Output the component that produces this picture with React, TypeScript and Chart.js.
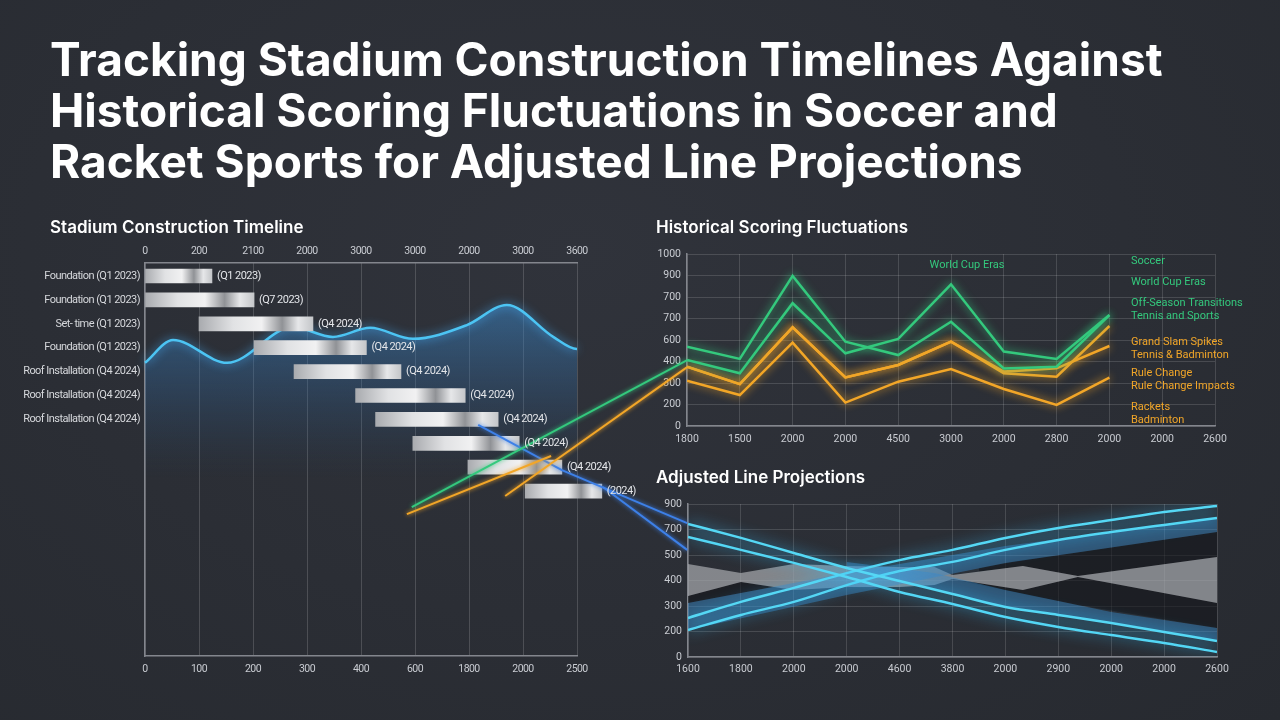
import React, { useEffect, useRef } from 'react';
import { Chart, registerables } from 'chart.js';

Chart.register(...registerables);

// ---------- Stadium Construction Timeline ----------
const timelineRows = [
  'Foundation (Q1 2023)',
  'Foundation (Q1 2023)',
  'Set- time (Q1 2023)',
  'Foundation (Q1 2023)',
  'Roof Installation (Q4 2024)',
  'Roof Installation (Q4 2024)',
  'Roof Installation (Q4 2024)',
];
const timelineStart = [0, 0, 1.0, 2.02, 2.76, 3.9, 4.27, 4.96, 5.98, 7.04];
const timelineEnd = [1.24, 2.02, 3.11, 4.1, 4.74, 5.93, 6.54, 6.93, 7.72, 8.46];
const timelineTags = ['(Q1 2023)', '(Q7 2023)', '(Q4 2024)', '(Q4 2024)', '(Q4 2024)', '(Q4 2024)', '(Q4 2024)', '(Q4 2024)', '(Q4 2024)', '(2024)'];
const timelineTopTicks = ['0', '200', '2100', '2000', '3000', '3000', '2000', '3000', '3600'];
const timelineBottomTicks = ['0', '100', '200', '300', '400', '600', '1800', '2000', '2500'];
const waveX = [0, 0.52, 1.52, 2.74, 3.48, 4.17, 4.96, 5.96, 6.7, 7.56, 8.0, 8.43];
const waveY = [74.6, 80.4, 74.6, 83.7, 81.2, 83.5, 80.7, 84.2, 89.3, 81.2, 78.1, 78.1];
const linkGreenX = [4.94, 10.04];
const linkGreenY = [37.9, 75.3];
const linkOrangeAX = [4.85, 7.52];
const linkOrangeAY = [36.1, 50.9];
const linkOrangeBX = [6.67, 10.04];
const linkOrangeBY = [40.7, 73.5];
const linkBlueAX = [6.17, 7.72, 10.04];
const linkBlueAY = [58.8, 47.3, 33.8];
const linkBlueBX = [8.48, 10.04];
const linkBlueBY = [43.0, 27.0];

// ---------- Historical Scoring Fluctuations ----------
const scoringXTicks = ['1800', '1500', '2000', '2000', '4500', '3000', '2000', '2800', '2000', '2000', '2600'];
const scoringYTicks = ['0', '200', '300', '400', '600', '700', '700', '900', '1000'];
const soccerPeaks = [3.69, 3.12, 6.98, 3.92, 3.3, 4.85, 2.68, 2.76, 5.16];
const soccerTrend = [3.07, 2.45, 5.71, 3.38, 4.05, 6.59, 3.46, 3.12, 5.16];
const racketGrandSlam = [2.76, 1.95, 4.59, 2.26, 2.84, 3.92, 2.45, 2.29, 4.65];
const racketRuleChange = [2.76, 1.95, 4.59, 2.26, 2.84, 3.92, 2.53, 2.68, 3.72];
const racketBadminton = [2.11, 1.44, 3.88, 1.09, 2.06, 2.65, 1.72, 0.98, 2.25];
const scoringLegendGroups = [
  ['Soccer'],
  ['World Cup Eras'],
  ['Off-Season Transitions', 'Tennis and Sports'],
  ['Grand Slam Spikes', 'Tennis & Badminton'],
  ['Rule Change', 'Rule Change Impacts'],
  ['Rackets', 'Badminton'],
];
const scoringLegendKinds = ['soccer', 'soccer', 'soccer', 'racket', 'racket', 'racket'];
const scoringNote = 'World Cup Eras';

// ---------- Adjusted Line Projections ----------
const projXTicks = ['1600', '1800', '2000', '2000', '4600', '3800', '2000', '2900', '2000', '2000', '2600'];
const projYTicks = ['0', '200', '300', '400', '500', '700', '900'];
const projDescA = [5.22, 4.67, 4.08, 3.49, 2.98, 2.47, 1.96, 1.65, 1.33, 0.98, 0.63];
const projDescB = [4.71, 4.2, 3.69, 3.14, 2.55, 2.08, 1.57, 1.18, 0.86, 0.55, 0.2];
const projAscA = [1.53, 2.16, 2.71, 3.29, 3.8, 4.2, 4.67, 5.06, 5.37, 5.69, 5.92];
const projAscB = [1.06, 1.65, 2.16, 2.82, 3.37, 3.73, 4.2, 4.59, 4.9, 5.18, 5.45];
const grayX = [0, 1, 2, 3, 4, 4.66, 5, 6.33, 7.37, 10];
const grayTop = [3.65, 3.29, 3.65, 3.57, 3.53, 3.53, 3.22, 3.57, 3.18, 3.92];
const grayBottom = [2.39, 2.94, 2.63, 2.75, 2.75, 2.82, 3.06, 2.63, 3.14, 2.12];
const ascBandX = [0, 3, 6, 10];
const ascBandTop = [2.12, 3.29, 4.35, 5.45];
const ascBandBottom = [1.06, 2.43, 3.69, 4.9];
const descBandX = [3, 4.66, 6, 8, 10];
const descBandTop = [3.73, 3.29, 2.63, 1.76, 1.14];
const descBandBottom = [3.41, 2.63, 1.96, 1.33, 0.63];
const darkAX = [5.5, 6.33, 7.37, 10];
const darkATop = [3.49, 3.8, 4.1, 4.9];
const darkABottom = [3.35, 3.57, 3.18, 3.92];
const darkBX = [5.0, 6.33, 7.37, 10];
const darkBTop = [3.06, 2.63, 3.14, 2.12];
const darkBBottom = [3.06, 2.47, 2.04, 1.14];
const darkCX = [0, 1, 1.6];
const darkCTop = [2.39, 2.94, 2.75];
const darkCBottom = [2.12, 2.51, 2.75];

// ---------- styles ----------
const BG = '#2b2e35';
const TICK = '#c9ccd2';
const GREEN = '#34c97d';
const ORANGE = '#f2a628';
const CYAN = '#55d8f5';
const LINK_BLUE = '#3d80e8';
const AXIS = '#83868d';
const GRID = 'rgba(255,255,255,0.14)';
const LABEL_FAMILY = 'Roboto, sans-serif';
const TICK_FONT = { family: 'Roboto, sans-serif', size: 10.5 };

const pts = (xs: number[], ys: number[]) => xs.map((x, i) => ({ x, y: ys[i] }));
const idx = (ys: number[]) => ys.map((y, i) => ({ x: i, y }));

const glowPlugin = {
  id: 'glow',
  beforeDatasetDraw(chart: any, args: any) {
    const ds: any = chart.data.datasets[args.index];
    if (ds.glowColor) {
      const c = chart.ctx;
      c.save();
      c.shadowColor = ds.glowColor;
      c.shadowBlur = ds.glowBlur || 10;
    }
  },
  afterDatasetDraw(chart: any, args: any) {
    const ds: any = chart.data.datasets[args.index];
    if (ds.glowColor) chart.ctx.restore();
  },
};

// tightens the narrow label text of the timeline chart
const tightTextPlugin = {
  id: 'tightText',
  beforeDraw(chart: any) {
    (chart.ctx as any).letterSpacing = '-0.55px';
  },
  afterDraw(chart: any) {
    (chart.ctx as any).letterSpacing = '0px';
  },
};

const tickAxis = (labels: string[], extra: any) => ({
  type: 'linear',
  min: 0,
  max: labels.length - 1,
  offset: false,
  afterBuildTicks: (s: any) => {
    s.ticks = labels.map((_, i) => ({ value: i }));
  },
  ...extra,
});

function makeTimeline(canvas: HTMLCanvasElement) {
  const bars = timelineStart.map((s, i) => ({ x: [s, timelineEnd[i]], y: i }));
  const metal = (c: any) => {
    const chart = c.chart;
    if (!chart.chartArea || !c.raw || !chart.scales.x) return '#cfd0d3';
    const xs = chart.scales.x;
    const x0 = xs.getPixelForValue(c.raw.x[0]);
    const x1 = xs.getPixelForValue(c.raw.x[1]);
    const g = chart.ctx.createLinearGradient(x0, 0, x1, 0);
    g.addColorStop(0, '#a9abaf');
    g.addColorStop(0.3, '#e1e2e4');
    g.addColorStop(0.55, '#f1f1f2');
    g.addColorStop(0.73, '#909296');
    g.addColorStop(0.87, '#e6e7e9');
    g.addColorStop(1, '#c4c6c9');
    return g;
  };
  const waveFill = (c: any) => {
    const chart = c.chart;
    const a = chart.chartArea;
    if (!a) return 'rgba(0,0,0,0)';
    const g = chart.ctx.createLinearGradient(0, a.top + 40, 0, a.top + 215);
    g.addColorStop(0, 'rgba(60,135,200,0.55)');
    g.addColorStop(0.5, 'rgba(50,105,160,0.3)');
    g.addColorStop(1, 'rgba(40,80,120,0)');
    return g;
  };
  const link = (label: string, xs: number[], ys: number[], color: string) => ({
    type: 'line',
    label,
    data: pts(xs, ys),
    xAxisID: 'x',
    yAxisID: 'y2',
    borderColor: color,
    borderWidth: 2,
    pointRadius: 0,
    fill: false,
    tension: 0,
    clip: false,
    order: 0,
    glowColor: color,
    glowBlur: 4,
  });
  const tagPlugin = {
    id: 'timelineTags',
    afterDatasetsDraw(chart: any) {
      const meta = chart.getDatasetMeta(0);
      const ctx = chart.ctx;
      ctx.save();
      ctx.font = `11px ${LABEL_FAMILY}`;
      ctx.fillStyle = '#e3e5e9';
      ctx.textBaseline = 'middle';
      ctx.textAlign = 'left';
      meta.data.forEach((el: any, i: number) => ctx.fillText(timelineTags[i], el.x + 5, el.y));
      ctx.restore();
    },
  };
  return new Chart(canvas, {
    type: 'bar',
    data: {
      datasets: [
        {
          type: 'bar',
          label: 'Phases',
          data: bars as any,
          indexAxis: 'y',
          xAxisID: 'x',
          yAxisID: 'y',
          barThickness: 14,
          backgroundColor: metal,
          borderWidth: 0,
          clip: false,
          order: 1,
        } as any,
        {
          type: 'line',
          label: 'Progress',
          data: pts(waveX, waveY),
          xAxisID: 'x',
          yAxisID: 'y2',
          borderColor: '#4cc4f3',
          borderWidth: 2.5,
          pointRadius: 0,
          cubicInterpolationMode: 'monotone',
          fill: 'origin',
          backgroundColor: waveFill,
          clip: false,
          order: 2,
          glowColor: 'rgba(70,180,255,0.9)',
          glowBlur: 10,
        } as any,
        link('Soccer link', linkGreenX, linkGreenY, GREEN),
        link('Racket link A', linkOrangeAX, linkOrangeAY, ORANGE),
        link('Racket link B', linkOrangeBX, linkOrangeBY, ORANGE),
        link('Projection link A', linkBlueAX, linkBlueAY, LINK_BLUE),
        link('Projection link B', linkBlueBX, linkBlueBY, LINK_BLUE),
      ],
    },
    options: {
      animation: false,
      responsive: false,
      layout: { padding: { left: 0, top: 0, right: 123, bottom: 0 } },
      plugins: { legend: { display: false }, tooltip: { enabled: false } },
      scales: {
        x: tickAxis(timelineBottomTicks, {
          position: 'bottom',
          afterFit: (s: any) => {
            s.height = 44;
          },
          grid: { color: 'rgba(255,255,255,0.16)', drawTicks: false, offset: false },
          border: { color: AXIS, width: 1.5 },
          ticks: {
            autoSkip: false,
            maxRotation: 0,
            color: TICK,
            font: TICK_FONT,
            padding: 7,
            callback: (v: number) => timelineBottomTicks[Math.round(v)] ?? '',
          },
        }),
        xTop: tickAxis(timelineTopTicks, {
          position: 'top',
          afterFit: (s: any) => {
            s.height = 63;
          },
          grid: { display: false, drawTicks: false, offset: false },
          border: { color: AXIS, width: 1.5 },
          ticks: {
            autoSkip: false,
            maxRotation: 0,
            color: TICK,
            font: TICK_FONT,
            padding: 5,
            callback: (v: number) => timelineTopTicks[Math.round(v)] ?? '',
          },
        }),
        y: {
          type: 'linear',
          reverse: true,
          offset: false,
          min: -0.544,
          max: 15.9,
          afterBuildTicks: (s: any) => {
            s.ticks = timelineRows.map((_, i) => ({ value: i }));
          },
          afterFit: (s: any) => {
            s.width = 145;
          },
          ticks: {
            autoSkip: false,
            color: '#d6d8dc',
            font: { family: LABEL_FAMILY, size: 11 },
            padding: 5,
            callback: (v: number) => timelineRows[Math.round(v)] ?? '',
          },
          grid: { display: false, drawTicks: false, offset: false },
          border: { color: AXIS, width: 1.5 },
        },
        y2: { type: 'linear', display: false, min: 0, max: 100 },
      } as any,
    },
    plugins: [tightTextPlugin, glowPlugin, tagPlugin],
  } as any);
}

function makeScoring(canvas: HTMLCanvasElement) {
  const line = (label: string, ys: number[], color: string) => ({
    label,
    data: idx(ys),
    borderColor: color,
    borderWidth: 2.5,
    pointRadius: 0,
    tension: 0,
    fill: false,
    glowColor: color,
    glowBlur: 8,
  });
  const textPlugin = {
    id: 'scoringText',
    afterDraw(chart: any) {
      const { ctx, chartArea } = chart;
      ctx.save();
      ctx.font = `11px ${LABEL_FAMILY}`;
      ctx.textBaseline = 'middle';
      ctx.textAlign = 'center';
      ctx.fillStyle = GREEN;
      ctx.fillText(scoringNote, chartArea.left + 280, chartArea.top + 11);
      ctx.textAlign = 'left';
      const groupTops = [7, 28, 49, 88, 119, 153];
      scoringLegendGroups.forEach((g, gi) => {
        ctx.fillStyle = scoringLegendKinds[gi] === 'soccer' ? GREEN : ORANGE;
        g.forEach((t, ti) => ctx.fillText(t, chartArea.left + 444, chartArea.top + groupTops[gi] + ti * 13));
      });
      ctx.restore();
    },
  };
  return new Chart(canvas, {
    type: 'line',
    data: {
      datasets: [
        line('Soccer peaks', soccerPeaks, GREEN),
        line('Soccer trend', soccerTrend, GREEN),
        line('Grand Slam', racketGrandSlam, ORANGE),
        line('Rule Change', racketRuleChange, ORANGE),
        line('Badminton', racketBadminton, ORANGE),
      ] as any,
    },
    options: {
      animation: false,
      responsive: false,
      layout: { padding: { left: 0, top: 14, right: 65, bottom: 0 } },
      plugins: { legend: { display: false }, tooltip: { enabled: false } },
      scales: {
        x: tickAxis(scoringXTicks, {
          afterFit: (s: any) => {
            s.height = 24;
          },
          grid: { color: GRID, drawTicks: false },
          border: { color: AXIS, width: 1.5 },
          ticks: {
            autoSkip: false,
            maxRotation: 0,
            color: TICK,
            font: TICK_FONT,
            padding: 7,
            callback: (v: number) => scoringXTicks[Math.round(v)] ?? '',
          },
        }),
        y: tickAxis(scoringYTicks, {
          afterFit: (s: any) => {
            s.width = 47;
          },
          grid: { color: GRID, drawTicks: false },
          border: { color: AXIS, width: 1.5 },
          ticks: {
            autoSkip: false,
            color: TICK,
            font: TICK_FONT,
            padding: 6,
            callback: (v: number) => scoringYTicks[Math.round(v)] ?? '',
          },
        }),
      } as any,
    },
    plugins: [glowPlugin, textPlugin],
  } as any);
}

function makeProjection(canvas: HTMLCanvasElement) {
  const edge = (label: string, xs: number[], ys: number[], order: number, fill: any, color: string) => ({
    label,
    data: pts(xs, ys),
    borderWidth: 0,
    borderColor: 'rgba(0,0,0,0)',
    pointRadius: 0,
    tension: 0,
    fill,
    backgroundColor: color,
    order,
  });
  const cyan = (label: string, ys: number[]) => ({
    label,
    data: idx(ys),
    borderColor: CYAN,
    borderWidth: 2.5,
    pointRadius: 0,
    cubicInterpolationMode: 'monotone',
    fill: false,
    order: 0,
    glowColor: 'rgba(60,195,255,0.95)',
    glowBlur: 14,
  });
  const BAND = 'rgba(55,135,200,0.45)';
  const GRAY = 'rgba(165,167,172,0.72)';
  const DARK = 'rgba(20,22,27,0.6)';
  return new Chart(canvas, {
    type: 'line',
    data: {
      datasets: [
        cyan('Desc A', projDescA),
        cyan('Desc B', projDescB),
        cyan('Asc A', projAscA),
        cyan('Asc B', projAscB),
        edge('Asc band top', ascBandX, ascBandTop, 3, false, BAND),
        edge('Asc band', ascBandX, ascBandBottom, 3, '-1', BAND),
        edge('Desc band top', descBandX, descBandTop, 3, false, BAND),
        edge('Desc band', descBandX, descBandBottom, 3, '-1', BAND),
        edge('Range top', grayX, grayTop, 4, false, GRAY),
        edge('Range', grayX, grayBottom, 4, '-1', GRAY),
        edge('Gap A top', darkAX, darkATop, 5, false, DARK),
        edge('Gap A', darkAX, darkABottom, 5, '-1', DARK),
        edge('Gap B top', darkBX, darkBTop, 5, false, DARK),
        edge('Gap B', darkBX, darkBBottom, 5, '-1', DARK),
        edge('Gap C top', darkCX, darkCTop, 5, false, DARK),
        edge('Gap C', darkCX, darkCBottom, 5, '-1', DARK),
      ] as any,
    },
    options: {
      animation: false,
      responsive: false,
      layout: { padding: { left: 0, top: 14, right: 63, bottom: 0 } },
      plugins: { legend: { display: false }, tooltip: { enabled: false } },
      scales: {
        x: tickAxis(projXTicks, {
          afterFit: (s: any) => {
            s.height = 33;
          },
          grid: { color: GRID, drawTicks: false },
          border: { color: AXIS, width: 1.5 },
          ticks: {
            autoSkip: false,
            maxRotation: 0,
            color: TICK,
            font: TICK_FONT,
            padding: 6,
            callback: (v: number) => projXTicks[Math.round(v)] ?? '',
          },
        }),
        y: tickAxis(projYTicks, {
          afterFit: (s: any) => {
            s.width = 48;
          },
          grid: { color: GRID, drawTicks: false },
          border: { color: AXIS, width: 1.5 },
          ticks: {
            autoSkip: false,
            color: TICK,
            font: TICK_FONT,
            padding: 6,
            callback: (v: number) => projYTicks[Math.round(v)] ?? '',
          },
        }),
      } as any,
    },
    plugins: [glowPlugin],
  } as any);
}

const subtitle: React.CSSProperties = {
  position: 'absolute',
  fontSize: 17,
  fontWeight: 600,
  lineHeight: '20px',
  color: '#ffffff',
  whiteSpace: 'nowrap',
};

export default function App() {
  const leftRef = useRef<HTMLCanvasElement>(null);
  const topRef = useRef<HTMLCanvasElement>(null);
  const bottomRef = useRef<HTMLCanvasElement>(null);

  useEffect(() => {
    const charts = [
      makeTimeline(leftRef.current!),
      makeScoring(topRef.current!),
      makeProjection(bottomRef.current!),
    ];
    return () => charts.forEach((c) => c.destroy());
  }, []);

  return (
    <div
      style={{
        position: 'fixed',
        left: 0,
        top: 0,
        width: 1280,
        height: 720,
        overflow: 'hidden',
        background: `radial-gradient(ellipse at 45% 35%, #30333b 0%, ${BG} 55%, #272a30 100%)`,
        fontFamily: "Inter, 'Open Sans', Roboto, sans-serif",
      }}
    >
      <div
        style={{
          position: 'absolute',
          left: 50,
          top: 34,
          fontSize: 46,
          fontWeight: 700,
          lineHeight: '51px',
          color: '#ffffff',
          whiteSpace: 'nowrap',
        }}
      >
        Tracking Stadium Construction Timelines Against
        <br />
        Historical Scoring Fluctuations in Soccer and
        <br />
        Racket Sports for Adjusted Line Projections
      </div>
      <div style={{ ...subtitle, left: 50, top: 217 }}>Stadium Construction Timeline</div>
      <div style={{ ...subtitle, left: 656, top: 217 }}>Historical Scoring Fluctuations</div>
      <div style={{ ...subtitle, left: 656, top: 467 }}>Adjusted Line Projections</div>
      <canvas ref={topRef} width={640} height={210} style={{ position: 'absolute', left: 640, top: 240 }} />
      <canvas ref={bottomRef} width={640} height={200} style={{ position: 'absolute', left: 640, top: 490 }} />
      <canvas ref={leftRef} width={700} height={500} style={{ position: 'absolute', left: 0, top: 200 }} />
    </div>
  );
}
